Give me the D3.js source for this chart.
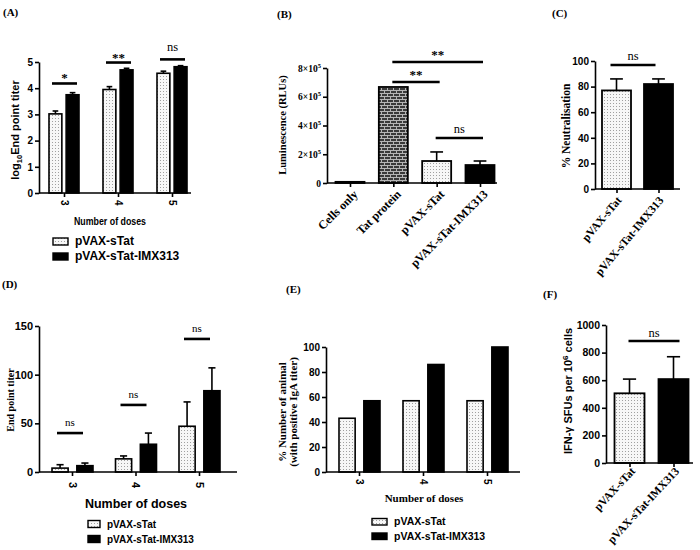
<!DOCTYPE html>
<html>
<head>
<meta charset="utf-8">
<script src="https://cdn.jsdelivr.net/npm/d3@7"></script>
<style>
  body { margin: 0; background: #fff; }
</style>
</head>
<body>
<svg id="fig" width="700" height="550"></svg>
<script>
// ---------- data ----------
const doses = ["3", "4", "5"];
const series = ["pVAX-sTat", "pVAX-sTat-IMX313"];

// (A) log10 end point titer
const titerA_sTat = [3.02, 3.95, 4.57];
const titerA_sTatErr = [3.13, 4.06, 4.65];
const titerA_imx = [3.75, 4.70, 4.82];
const titerA_imxErr = [3.83, 4.76, 4.86];
const sigA_text = ["*", "**", "ns"];
const sigA_y = [4.18, 4.98, 5.1];

// (B) luminescence
const groupsB = ["Cells only", "Tat protein", "pVAX-sTat", "pVAX-sTat-IMX313"];
const lumB = [8000, 668000, 153000, 125000];
const lumB_err = [null, null, 216000, 153000];
const sigB_from = ["Tat protein", "Tat protein", "pVAX-sTat"];
const sigB_to = ["pVAX-sTat-IMX313", "pVAX-sTat", "pVAX-sTat-IMX313"];
const sigB_y = [842000, 703000, 313000];
const sigB_text = ["**", "**", "ns"];

// (C) % neutralisation
const neutC = [77, 82];
const neutC_err = [86, 86];
const sigC_y = 96.9;

// (D) end point titer
const titerD_sTat = [4, 13.5, 47];
const titerD_sTatErr = [7.5, 16.5, 72];
const titerD_imx = [6.5, 28.5, 83.5];
const titerD_imxErr = [9.2, 40, 107];
const sigD_y = [40, 68.9, 136.7];

// (E) % animals with positive IgA titer
const pctE_sTat = [43, 57, 57];
const pctE_imx = [57, 86, 100];

// (F) IFN-gamma SFUs
const sfuF = [505, 608];
const sfuF_err = [608, 770];
const sigF_y = 884;

// ---------- setup ----------
const svg = d3.select("#fig");
const ARIAL = "Liberation Sans, Arial, sans-serif";
const TIMES = "Liberation Serif, Times New Roman, serif";

const defs = svg.append("defs");
const dots = defs.append("pattern").attr("id", "dots")
  .attr("patternUnits", "userSpaceOnUse").attr("width", 3).attr("height", 3);
dots.append("rect").attr("width", 3).attr("height", 3).attr("fill", "#f7f7f7");
dots.append("rect").attr("x", 1).attr("y", 1).attr("width", 1).attr("height", 1).attr("fill", "#a0a0a0");
const brick = defs.append("pattern").attr("id", "brick")
  .attr("patternUnits", "userSpaceOnUse").attr("width", 6).attr("height", 6);
brick.append("rect").attr("width", 6).attr("height", 6).attr("fill", "#3a3a3a");
brick.append("path").attr("d", "M0,0.5H6M0,3.5H6M0.5,0V3M3.5,3V6")
  .attr("stroke", "#b5b5b5").attr("stroke-width", 1);

const fillOf = {
  "pVAX-sTat": "url(#dots)",
  "pVAX-sTat-IMX313": "#000",
  "Tat protein": "url(#brick)",
  "Cells only": "#fff"
};

function yAxis(x0, y, ticks, font, size, fmt) {
  const g = svg.append("g").attr("transform", `translate(${x0},0)`)
    .call(d3.axisLeft(y).tickValues(ticks).tickSize(4).tickSizeOuter(0)
      .tickPadding(2).tickFormat(fmt || d3.format("d")));
  g.select(".domain").attr("stroke", "#000").attr("stroke-width", 1.6);
  g.selectAll(".tick line").attr("stroke", "#000").attr("stroke-width", 1.6);
  g.selectAll(".tick text").attr("font-family", font).attr("font-weight", "bold")
    .attr("font-size", size).attr("fill", "#000");
  return g;
}

function xAxis(x, x0, x1, y0, font, size, labelFn) {
  svg.append("line").attr("x1", x0).attr("x2", x1).attr("y1", y0).attr("y2", y0)
    .attr("stroke", "#000").attr("stroke-width", 1.6);
  const g = svg.append("g").attr("transform", `translate(0,${y0})`)
    .call(d3.axisBottom(x).tickSize(4).tickSizeOuter(0));
  g.select(".domain").remove();
  g.selectAll(".tick line").attr("stroke", "#000").attr("stroke-width", 1.6);
  const t = g.selectAll(".tick text").attr("font-family", font).attr("font-weight", "bold")
    .attr("font-size", size).attr("fill", "#000").attr("x", 0).attr("y", 0);
  labelFn(t);
}

function bars(data, y, stroke) {
  svg.append("g").selectAll("rect").data(data).join("rect")
    .attr("x", d => d.x).attr("width", d => d.w)
    .attr("y", d => y(d.v)).attr("height", d => y(0) - y(d.v))
    .attr("fill", d => d.fill).attr("stroke", "#000").attr("stroke-width", stroke || 1.8);
  const e = data.filter(d => d.err != null);
  const g = svg.append("g").attr("stroke", "#000").attr("stroke-width", 1.6);
  g.selectAll(".v").data(e).join("line")
    .attr("x1", d => d.x + d.w / 2).attr("x2", d => d.x + d.w / 2)
    .attr("y1", d => y(d.v)).attr("y2", d => y(d.err));
  g.selectAll(".c").data(e).join("line")
    .attr("x1", d => d.x + d.w / 2 - d.w * 0.22).attr("x2", d => d.x + d.w / 2 + d.w * 0.22)
    .attr("y1", d => y(d.err)).attr("y2", d => y(d.err));
}

function sig(x0, x1, yy, text, starDy, nsDy, starSize, nsSize) {
  svg.append("line").attr("x1", x0).attr("x2", x1).attr("y1", yy).attr("y2", yy)
    .attr("stroke", "#000").attr("stroke-width", 2.6);
  const isNs = text === "ns";
  svg.append("text").attr("x", (x0 + x1) / 2).attr("y", yy + (isNs ? nsDy : starDy))
    .attr("text-anchor", "middle").attr("font-family", TIMES)
    .attr("font-weight", isNs ? "normal" : "bold")
    .attr("font-size", isNs ? nsSize : starSize).text(text);
}

function panelLabel(x, y, t) {
  svg.append("text").attr("x", x).attr("y", y).attr("font-family", TIMES)
    .attr("font-weight", "bold").attr("font-size", 11).text(t);
}

function vLabel(cx, cy, font, size, build) {
  const t = svg.append("text").attr("transform", `translate(${cx},${cy}) rotate(-90)`)
    .attr("text-anchor", "middle").attr("dy", "0.35em")
    .attr("font-family", font).attr("font-weight", "bold").attr("font-size", size);
  build(t);
}

function legend(x, y0, dy, size, sw, sh) {
  series.forEach((s, i) => {
    const yy = y0 + i * dy;
    svg.append("rect").attr("x", x).attr("y", yy - sh).attr("width", sw).attr("height", sh)
      .attr("fill", fillOf[s]).attr("stroke", "#000").attr("stroke-width", 1.4);
    svg.append("text").attr("x", x + sw + 7).attr("y", yy).attr("font-family", ARIAL)
      .attr("font-weight", "bold").attr("font-size", size).text(s);
  });
}

const rot90 = (off) => t => t.attr("transform", `translate(0,${off}) rotate(90)`)
  .attr("text-anchor", "start").attr("dy", "0.35em");
const rotNeg = (ang, dx, dy) => t => t.attr("transform", `translate(${dx},${dy}) rotate(${ang})`)
  .attr("text-anchor", "end").attr("dy", "0.35em");

// ---------- (A) ----------
{
  const y = d3.scaleLinear().domain([0, 5]).range([193, 62]);
  const x = d3.scalePoint().domain(doses).range([64, 172]);
  const inner = d3.scaleBand().domain(series).range([-15, 15]).paddingInner(0.25);
  yAxis(39, y, [0, 1, 2, 3, 4, 5], ARIAL, 10);
  const data = [];
  doses.forEach((g, i) => {
    data.push({x: x(g) + inner(series[0]), w: inner.bandwidth(), v: titerA_sTat[i], err: titerA_sTatErr[i], fill: fillOf[series[0]]});
    data.push({x: x(g) + inner(series[1]), w: inner.bandwidth(), v: titerA_imx[i], err: titerA_imxErr[i], fill: fillOf[series[1]]});
  });
  bars(data, y, 1.6);
  xAxis(x, 39, 191, 193, ARIAL, 10, rot90(7));
  doses.forEach((g, i) => sig(x(g) - 12, x(g) + 13, y(sigA_y[i]), sigA_text[i], -1, -8, 13, 12.5));
  vLabel(15, 130, ARIAL, 11, t => {
    t.append("tspan").text("log");
    t.append("tspan").attr("font-size", 7.5).attr("dy", 3).text("10");
    t.append("tspan").attr("dy", -3).text("End point titer");
  });
  svg.append("text").attr("x", 110).attr("y", 225).attr("text-anchor", "middle")
    .attr("font-family", ARIAL).attr("font-weight", "bold").attr("font-size", 10)
    .attr("textLength", 72).attr("lengthAdjust", "spacingAndGlyphs").text("Number of doses");
  legend(53, 245, 15, 12, 15, 7);
  panelLabel(3, 16, "(A)");
}

// ---------- (B) ----------
{
  const y = d3.scaleLinear().domain([0, 800000]).range([183, 68]);
  const x = d3.scalePoint().domain(groupsB).range([350, 480]);
  const w = 29;
  const g = yAxis(327, y, [0, 200000, 400000, 600000, 800000], TIMES, 9.5);
  g.selectAll(".tick text").each(function (d) {
    const t = d3.select(this);
    t.text(null);
    if (d === 0) { t.text("0"); return; }
    t.append("tspan").text((d / 100000) + "×10");
    t.append("tspan").attr("dy", -4).attr("font-size", 6.5).text("5");
  });
  bars(groupsB.map((c, i) => ({x: x(c) - w / 2, w: w, v: lumB[i], err: lumB_err[i], fill: fillOf[c]})), y, 1.8);
  xAxis(x, 327, 497, 183, TIMES, 12, rotNeg(-45, 5, 9));
  sigB_text.forEach((s, i) => sig(x(sigB_from[i]) - 1, x(sigB_to[i]) + 3, y(sigB_y[i]), s, -3, -5, 13, 12.5));
  vLabel(282, 125, TIMES, 10.5, t => t.text("Luminescence (RLUs)"));
  panelLabel(277, 18, "(B)");
}

// ---------- (C) ----------
{
  const y = d3.scaleLinear().domain([0, 100]).range([189, 61]);
  const x = d3.scalePoint().domain(series).range([616.5, 658.5]);
  const w = 29;
  yAxis(595, y, [0, 20, 40, 60, 80, 100], ARIAL, 10);
  bars(series.map((s, i) => ({x: x(s) - w / 2, w: w, v: neutC[i], err: neutC_err[i], fill: fillOf[s]})), y, 1.8);
  xAxis(x, 595, 680, 189, TIMES, 11.5, rotNeg(-50, 2, 9));
  sig(x(series[0]) - 6, x(series[1]) - 3, y(sigC_y), "ns", -3, -5, 13, 12.5);
  vLabel(566, 126, TIMES, 11.5, t => t.text("% Neutralisation"));
  panelLabel(552, 17, "(C)");
}

// ---------- (D) ----------
{
  const y = d3.scaleLinear().domain([0, 150]).range([472, 326]);
  const x = d3.scalePoint().domain(doses).range([72, 199]);
  const inner = d3.scaleBand().domain(series).range([-20, 21]).paddingInner(0.35);
  yAxis(39, y, [0, 50, 100, 150], ARIAL, 11);
  const data = [];
  doses.forEach((g, i) => {
    data.push({x: x(g) + inner(series[0]), w: inner.bandwidth(), v: titerD_sTat[i], err: titerD_sTatErr[i], fill: fillOf[series[0]]});
    data.push({x: x(g) + inner(series[1]), w: inner.bandwidth(), v: titerD_imx[i], err: titerD_imxErr[i], fill: fillOf[series[1]]});
  });
  bars(data, y, 1.6);
  xAxis(x, 39, 237, 472, ARIAL, 11, rot90(10));
  doses.forEach((g, i) => sig(x(g) - 15, x(g) + 11, y(sigD_y[i]), "ns", -3, -7, 13, 11));
  vLabel(10, 400, TIMES, 10, t => t.text("End point titer"));
  svg.append("text").attr("x", 136).attr("y", 508).attr("text-anchor", "middle")
    .attr("font-family", ARIAL).attr("font-weight", "bold").attr("font-size", 12.5).text("Number of doses");
  legend(88, 527.5, 15, 10, 12, 7);
  panelLabel(2, 288, "(D)");
}

// ---------- (E) ----------
{
  const y = d3.scaleLinear().domain([0, 100]).range([472, 347]);
  const x = d3.scalePoint().domain(doses).range([359, 487]);
  const inner = d3.scaleBand().domain(series).range([-20, 21]).paddingInner(0.35);
  yAxis(326, y, [0, 20, 40, 60, 80, 100], ARIAL, 10);
  const data = [];
  doses.forEach((g, i) => {
    data.push({x: x(g) + inner(series[0]), w: inner.bandwidth(), v: pctE_sTat[i], err: null, fill: fillOf[series[0]]});
    data.push({x: x(g) + inner(series[1]), w: inner.bandwidth(), v: pctE_imx[i], err: null, fill: fillOf[series[1]]});
  });
  bars(data, y, 1.6);
  xAxis(x, 326, 520, 472, ARIAL, 10, rot90(7));
  svg.append("text").attr("transform", "translate(288,412) rotate(-90)")
    .attr("text-anchor", "middle").attr("font-family", TIMES).attr("font-weight", "bold")
    .attr("font-size", 11)
    .call(t => {
      t.append("tspan").attr("x", 0).attr("dy", "-0.15em").text("% Number of animal");
      t.append("tspan").attr("x", 0).attr("dy", "1.0em").text("(with positive IgA titer)");
    });
  svg.append("text").attr("x", 424).attr("y", 502).attr("text-anchor", "middle")
    .attr("font-family", TIMES).attr("font-weight", "bold").attr("font-size", 11).text("Number of doses");
  legend(372, 525, 14.5, 10.5, 15, 6.5);
  panelLabel(286, 293, "(E)");
}

// ---------- (F) ----------
{
  const y = d3.scaleLinear().domain([0, 1000]).range([463, 325]);
  const x = d3.scalePoint().domain(series).range([629.5, 673.5]);
  const w = 30;
  yAxis(606, y, [0, 200, 400, 600, 800, 1000], ARIAL, 10.5);
  bars(series.map((s, i) => ({x: x(s) - w / 2, w: w, v: sfuF[i], err: sfuF_err[i], fill: fillOf[s]})), y, 1.8);
  xAxis(x, 606, 693, 463, TIMES, 11.5, rotNeg(-47, 3, 6));
  sig(x(series[0]) - 1, x(series[1]) + 6, y(sigF_y), "ns", -3, -4, 13, 12.5);
  vLabel(568, 391, ARIAL, 11, t => {
    t.append("tspan").text("IFN-γ SFUs per 10");
    t.append("tspan").attr("dy", -4).attr("font-size", 8).text("6");
    t.append("tspan").attr("dy", 4).text(" cells");
  });
  panelLabel(543, 298, "(F)");
}
</script>
</body>
</html>
